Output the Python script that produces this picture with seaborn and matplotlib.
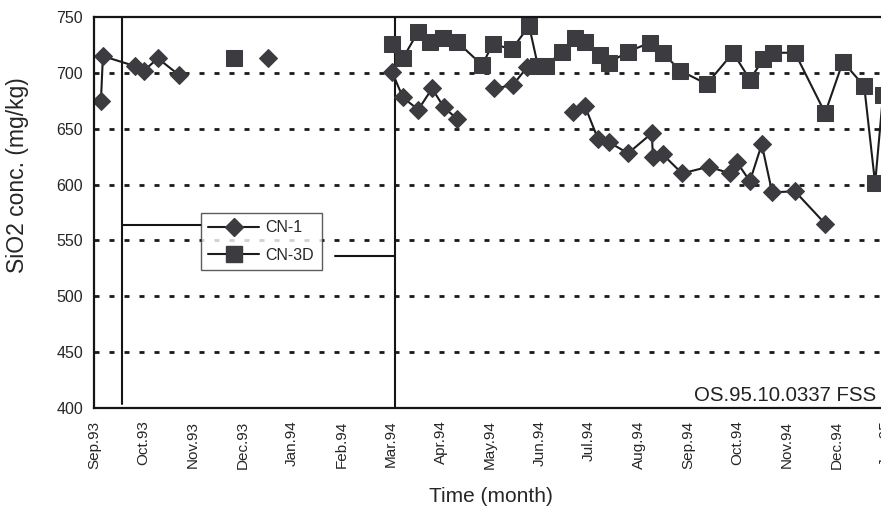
import matplotlib
matplotlib.use("Agg")
import matplotlib.pyplot as plt
import seaborn as sns
import pandas as pd
from matplotlib.lines import Line2D

# ---------------- data ----------------
month_labels = ["Sep.93", "Oct.93", "Nov.93", "Dec.93", "Jan.94", "Feb.94", "Mar.94",
                "Apr.94", "May.94", "Jun.94", "Jul.94", "Aug.94", "Sep.94", "Oct.94",
                "Nov.94", "Dec.94", "Jan.95"]

# months counted from Sep.93 (fractional position within the month)
cn1_month = [0.14, 0.18, 0.83, 1.01, 1.29, 1.72,
             3.52,
             6.02, 6.24, 6.55, 6.83, 7.07, 7.33,
             8.08, 8.46, 8.75,
             9.68, 9.92, 10.18, 10.40, 10.79, 11.27, 11.29, 11.49, 11.88,
             12.42, 12.85, 12.99, 13.25, 13.49, 13.70, 14.16, 14.77]
cn1_value = [675, 715, 706, 702, 713, 698,
             713,
             701, 678, 667, 686, 669, 659,
             686, 689, 705,
             665, 670, 641, 638, 628, 646, 625, 627, 610,
             616, 610, 620, 603, 636, 593, 594, 565]
cn1_segment = [1] * 6 + [2] + [3] * 6 + [4] * 3 + [5] * 17

cn3d_month = [2.83,
              6.02, 6.24, 6.55, 6.79, 7.05, 7.33, 7.84, 8.06, 8.44, 8.79, 8.97, 9.13,
              9.45, 9.72, 9.92, 10.22, 10.40, 10.79, 11.23, 11.49, 11.84, 12.38,
              12.91, 13.25, 13.52, 13.72, 14.16, 14.77, 15.13, 15.56, 15.78, 15.94]
cn3d_value = [713,
              726, 713, 737, 728, 731, 728, 707, 726, 721, 742, 706, 706,
              719, 731, 728, 716, 709, 719, 727, 718, 702, 690,
              718, 694, 712, 718, 718, 664, 710, 688, 601, 680]
cn3d_segment = [1] + [2] * 32

y_ticks = [400, 450, 500, 550, 600, 650, 700, 750]
grid_levels = [450, 500, 550, 600, 650, 700]

# ---------------- frames ----------------
df1 = pd.DataFrame({"month": cn1_month, "value": cn1_value, "seg": cn1_segment})
df3 = pd.DataFrame({"month": cn3d_month, "value": cn3d_value, "seg": cn3d_segment})

sns.set_style("white")
plt.rcParams["font.family"] = ["Liberation Sans", "DejaVu Sans"]

W, H = 881, 511
fig = plt.figure(figsize=(W / 100, H / 100), dpi=100)
px_per_month = 49.5
xmax = 16.5
ax_w_px = xmax * px_per_month
ax = fig.add_axes([94 / W, (H - 408) / H, ax_w_px / W, 391 / H])

line_col = "#1c1c1c"
mark_col = "#3c3c40"

for lev in grid_levels:
    ax.axhline(lev, color="#1a1a1a", lw=2.0, ls=(0, (1.8, 3.6)), zorder=0.5)

sns.lineplot(data=df1, x="month", y="value", units="seg", estimator=None, sort=False,
             color=line_col, lw=1.5, marker="D", markersize=9.5,
             markerfacecolor=mark_col, markeredgecolor=mark_col, ax=ax, legend=False)
sns.lineplot(data=df3, x="month", y="value", units="seg", estimator=None, sort=False,
             color=line_col, lw=1.5, marker="s", markersize=11,
             markerfacecolor=mark_col, markeredgecolor=mark_col, ax=ax, legend=False)

# leftover frame lines of the scanned original
ax.plot([0.57, 0.57], [404, 750], color="#151515", lw=1.5, zorder=1)
ax.plot([6.08, 6.08], [400, 750], color="#151515", lw=1.5, zorder=1)
ax.plot([0.57, 2.16], [564, 564], color="#151515", lw=1.5, zorder=1)
ax.plot([4.87, 6.08], [536, 536], color="#151515", lw=1.5, zorder=1)

ax.set_xlim(0, xmax)
ax.set_ylim(400, 750)
ax.set_xticks(range(len(month_labels)))
ax.set_xticklabels(month_labels, rotation=90, fontsize=11)
ax.set_yticks(y_ticks)
ax.set_yticklabels([str(v) for v in y_ticks], fontsize=11.5)
ax.tick_params(axis="x", direction="inout", length=6, width=1, color="#555555", pad=6)
ax.tick_params(axis="y", direction="out", length=4, width=1, color="#555555", pad=4)

for s in ["left", "top", "bottom"]:
    ax.spines[s].set_color("#151515")
    ax.spines[s].set_linewidth(1.6)
ax.spines["right"].set_visible(False)

ax.set_xlabel("Time (month)", fontsize=15)
ax.xaxis.set_label_coords((491 - 94) / ax_w_px, (408 - 496) / 391)
ax.set_ylabel("SiO2 conc. (mg/kg)", fontsize=16.5)
ax.yaxis.set_label_coords((18 - 94) / ax_w_px, (408 - 175) / 391)
ax.xaxis.label.set_va("center")
ax.yaxis.label.set_va("center")

ax.text((876 - 94) / ax_w_px, (408 - 395) / 391,
        "OS.95.10.0337 FSS", transform=ax.transAxes, ha="right", va="center",
        fontsize=14.7, color="#222222")

handles = [
    Line2D([], [], color=line_col, lw=1.5, marker="D", markersize=9.5,
           markerfacecolor=mark_col, markeredgecolor=mark_col),
    Line2D([], [], color=line_col, lw=1.5, marker="s", markersize=11,
           markerfacecolor=mark_col, markeredgecolor=mark_col),
]
leg = ax.legend(handles, ["CN-1", "CN-3D"], loc="upper left",
                bbox_to_anchor=((201 - 94) / ax_w_px, (408 - 213) / 391),
                borderaxespad=0, frameon=True, fancybox=False, fontsize=11.5,
                handlelength=3.2, labelspacing=0.8, handletextpad=0.4,
                borderpad=0.45)
leg.get_frame().set_edgecolor("#333333")
leg.get_frame().set_linewidth(1.0)

fig.savefig("out.png", dpi=100)
